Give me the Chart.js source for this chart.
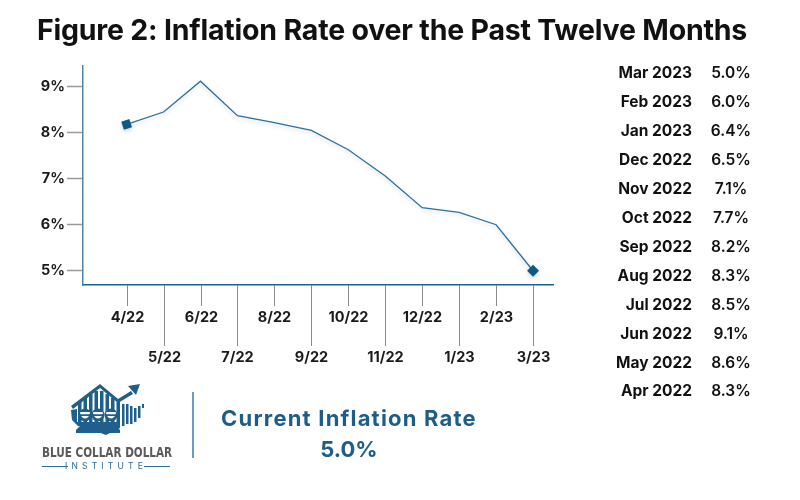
<!DOCTYPE html>
<html>
<head>
<meta charset="utf-8">
<script src="https://cdn.jsdelivr.net/npm/chart.js@4"></script>
<style>
  body { margin: 0; background: #fff; font-family: Inter, "Noto Sans", sans-serif; }
  #wrap { position: relative; width: 800px; height: 500px; overflow: hidden; }
  #chart { position: absolute; left: 0; top: 0; }
  .title { position: absolute; left: 0; width: 784px; top: 12px; text-align: center;
    font-size: 28.5px; font-weight: 700; color: #111; letter-spacing: -0.2px; white-space: nowrap; }
  .row { position: absolute; left: 560px; width: 220px; height: 20px; font-size: 15.5px; color: #111; }
  .row .m { position: absolute; right: 88px; font-weight: 700; white-space: nowrap; }
  .row .v { position: absolute; left: 131px; width: 80px; text-align: center; font-weight: 600; }
  .divider { position: absolute; left: 192px; top: 392px; width: 2px; height: 66px; background: #6b9bbd; }
  .cur { position: absolute; left: 200px; width: 298px; text-align: center; color: #1d5d88; font-weight: 700;
    font-size: 22px; white-space: nowrap; }
  .brand { position: absolute; left: 42px; top: 444px; font-family: "DejaVu Sans Condensed", "Liberation Sans Narrow", sans-serif;
    font-size: 14px; line-height: 16px; font-weight: 700; color: #5a5a5a; white-space: nowrap;
    transform: scaleX(0.83); transform-origin: left; }
  .inst { position: absolute; left: 42px; top: 461px; width: 128px; height: 10px; }
  .inst span { position: absolute; left: 0; width: 128px; text-align: center; font-size: 8.5px; line-height: 10px;
    color: #2a6a96; letter-spacing: 4.2px; }
  .inst i { position: absolute; top: 5px; width: 26px; height: 1px; background: #2a6a96; }
</style>
</head>
<body>
<div id="wrap">
  <canvas id="chart" width="800" height="500"></canvas>
  <div class="title">Figure 2: Inflation Rate over the Past Twelve Months</div>
  <div id="table"></div>
  <svg style="position:absolute;left:68px;top:382px" width="80" height="54" viewBox="0 0 80 54">
    <g fill="#1f5f8c">
      <path d="M3 24 L32 2 L50 17 L63 9 L65 12 L50 21 L32 6 L5 27 Z"/>
      <path d="M60 4 L72 2 L68 13 Z"/>
      <rect x="10" y="20" width="3.5" height="20"/>
      <rect x="15.5" y="16" width="3.5" height="24"/>
      <rect x="21" y="12" width="3.5" height="28"/>
      <rect x="26.5" y="9" width="3.5" height="31"/>
      <rect x="32" y="9" width="3.5" height="31"/>
      <rect x="37.5" y="12" width="3.5" height="28"/>
      <rect x="43" y="16" width="3.5" height="24"/>
      <rect x="48.5" y="20" width="3.5" height="22"/>
      <rect x="54" y="22" width="2.5" height="22"/>
      <rect x="58" y="22" width="2.5" height="20"/>
      <rect x="62" y="24" width="2.5" height="18"/>
      <rect x="66" y="26" width="2.5" height="14"/>
      <rect x="70" y="24" width="2.5" height="12"/>
      <rect x="74" y="22" width="2" height="4"/>
      <path d="M3 28 L9 27 L9 40 L52 40 L52 46 L44 50 L38 53 L30 50 L20 46 L10 44 L4 38 Z"/>
      <circle cx="17" cy="33" r="6.5"/>
      <circle cx="30" cy="33" r="6.5"/>
      <circle cx="43" cy="33" r="6.5"/>
      <path d="M8 48 Q17 37 25 46 Q30 38 35 46 Q43 37 52 48 L52 51 L8 51 Z"/>
    </g>
    <g fill="#fff">
      <rect x="12" y="30" width="10" height="2.2" rx="1"/>
      <rect x="25" y="30" width="10" height="2.2" rx="1"/>
      <rect x="38" y="30" width="10" height="2.2" rx="1"/>
      <path d="M13 34 Q17 39 21 34 Z"/>
      <path d="M26 34 Q30 39 34 34 Z"/>
      <path d="M39 34 Q43 39 47 34 Z"/>
    </g>
  </svg>
  <div class="brand">BLUE COLLAR DOLLAR</div>
  <div class="inst"><i style="left:0"></i><span>INSTITUTE</span><i style="right:0"></i></div>
  <div class="divider"></div>
  <div class="cur" style="top:405px;letter-spacing:1.2px;">Current Inflation Rate</div>
  <div class="cur" style="top:436px;">5.0%</div>
</div>
<script>
// line data
const months = ["4/22", "5/22", "6/22", "7/22", "8/22", "9/22", "10/22", "11/22", "12/22", "1/23", "2/23", "3/23"];
const rates = [8.18, 8.45, 9.12, 8.37, 8.22, 8.05, 7.63, 7.06, 6.37, 6.27, 6.0, 5.0];
const yTicks = [5, 6, 7, 8, 9];

// side table
const tableMonths = ["Mar 2023", "Feb 2023", "Jan 2023", "Dec 2022", "Nov 2022", "Oct 2022",
  "Sep 2022", "Aug 2022", "Jul 2022", "Jun 2022", "May 2022", "Apr 2022"];
const tableRates = ["5.0%", "6.0%", "6.4%", "6.5%", "7.1%", "7.7%", "8.2%", "8.3%", "8.5%", "9.1%", "8.6%", "8.3%"];

const table = document.getElementById("table");
tableMonths.forEach((m, i) => {
  const row = document.createElement("div");
  row.className = "row";
  row.style.top = (63 + i * 28.95) + "px";
  row.innerHTML = '<span class="m">' + m + '</span><span class="v">' + tableRates[i] + '</span>';
  table.appendChild(row);
});

const lastIdx = rates.length - 1;

// x ticks drawn with alternating lengths, labels in two rows
const staggeredTicks = {
  id: "staggeredTicks",
  afterDraw(chart) {
    const ctx = chart.ctx;
    const xs = chart.scales.x;
    const top = chart.chartArea.bottom;
    ctx.save();
    ctx.strokeStyle = "#8a8a8a";
    ctx.lineWidth = 1;
    ctx.fillStyle = "#1a1a1a";
    ctx.font = "700 14.5px Inter, sans-serif";
    ctx.textAlign = "center";
    ctx.textBaseline = "middle";
    months.forEach((lab, i) => {
      const x = Math.round(xs.getPixelForValue(i)) + 0.5;
      const len = i % 2 === 0 ? 21 : 61;
      ctx.beginPath();
      ctx.moveTo(x, top);
      ctx.lineTo(x, top + len);
      ctx.stroke();
      ctx.fillText(lab, x, i % 2 === 0 ? 318 : 358);
    });
    ctx.restore();
  }
};

const lineShadow = {
  id: "lineShadow",
  beforeDatasetsDraw(chart) {
    const ctx = chart.ctx;
    ctx.save();
    ctx.shadowColor = "rgba(0,0,0,0.18)";
    ctx.shadowBlur = 4;
    ctx.shadowOffsetY = 2;
  },
  afterDatasetsDraw(chart) {
    chart.ctx.restore();
  }
};

new Chart(document.getElementById("chart"), {
  type: "line",
  data: {
    datasets: [{
      data: rates.map((r, i) => ({ x: i, y: r })),
      borderColor: "#2b71a0",
      borderWidth: 1.3,
      tension: 0,
      pointRadius: rates.map((r, i) => (i === 0 || i === lastIdx ? 6 : 0)),
      pointStyle: rates.map((r, i) => (i === lastIdx ? "rectRot" : "rect")),
      rotation: rates.map((r, i) => (i === 0 ? -18 : 0)),
      pointBackgroundColor: "#0b5a89",
      pointBorderColor: "#0b5a89",
      pointBorderWidth: 0
    }]
  },
  options: {
    responsive: false,
    animation: false,
    devicePixelRatio: 1,
    layout: { padding: { left: 0, top: 66, right: 247, bottom: 135 } },
    plugins: { legend: { display: false }, tooltip: { enabled: false } },
    scales: {
      x: {
        type: "linear",
        min: -1.18,
        max: 11.54,
        afterBuildTicks: (s) => { s.ticks = months.map((m, i) => ({ value: i })); },
        afterFit: (s) => { s.height = 80; },
        ticks: { display: false },
        grid: { display: false },
        border: { display: true, color: "#1f5f8c", width: 1.5 }
      },
      y: {
        min: 4.69,
        max: 9.45,
        afterBuildTicks: (s) => { s.ticks = yTicks.map((v) => ({ value: v })); },
        afterFit: (s) => { s.width = 83; },
        ticks: {
          callback: (v) => v + "%",
          color: "#1a1a1a",
          padding: 2,
          font: { family: "Inter", size: 14.5, weight: "700" }
        },
        grid: { drawOnChartArea: false, drawTicks: true, tickLength: 16, tickColor: "#9a9a9a", tickWidth: 1.5 },
        border: { display: true, color: "#4a86ad", width: 1.5 }
      }
    }
  },
  plugins: [staggeredTicks, lineShadow]
});
</script>
</body>
</html>
